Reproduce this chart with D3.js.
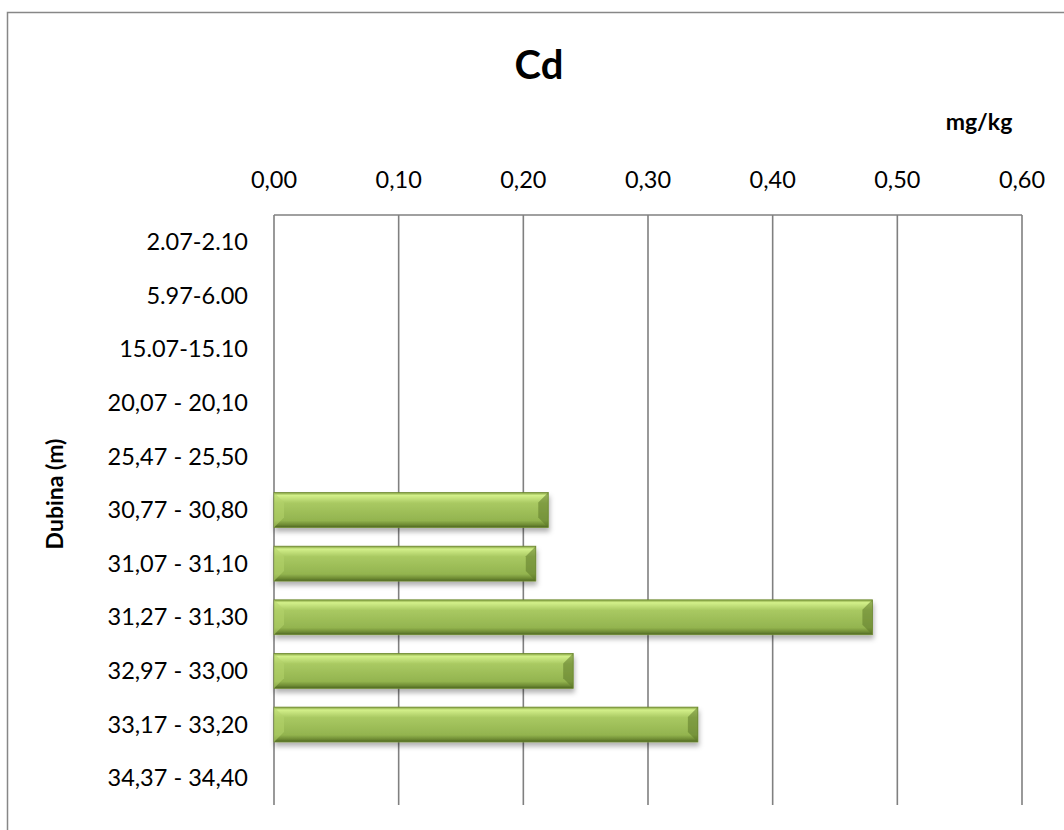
<!DOCTYPE html>
<html>
<head>
<meta charset="utf-8">
<script src="https://cdn.jsdelivr.net/npm/d3@7"></script>
<style>
  body { margin: 0; background: #fff; }
  svg text { font-family: Lato, "Open Sans", sans-serif; fill: #000; }
</style>
</head>
<body>
<svg id="chart"></svg>
<script>
// depth intervals (top to bottom) and Cd content in mg/kg
const depths = ["2.07-2.10", "5.97-6.00", "15.07-15.10", "20,07 - 20,10", "25,47 - 25,50",
  "30,77 - 30,80", "31,07 - 31,10", "31,27 - 31,30", "32,97 - 33,00", "33,17 - 33,20", "34,37 - 34,40"];
const cdValues = [null, null, null, null, null, 0.22, 0.21, 0.48, 0.24, 0.34, null];
const xTicks = [0, 0.1, 0.2, 0.3, 0.4, 0.5, 0.6];

const width = 1064, height = 830;
const svg = d3.select("#chart").attr("width", width).attr("height", height);

// chart area border (runs off right/bottom of the picture)
svg.append("rect")
  .attr("x", 7.5).attr("y", 12.5)
  .attr("width", 1080).attr("height", 840)
  .attr("fill", "none").attr("stroke", "#878787").attr("stroke-width", 1.5);

const x = d3.scaleLinear().domain([0, 0.6]).range([274, 1022]);
const y = d3.scaleBand().domain(depths).range([215, 805]).paddingInner(0.35).paddingOuter(0.175);

const defs = svg.append("defs");
const grad = defs.append("linearGradient").attr("id", "barGrad")
  .attr("x1", 0).attr("y1", 0).attr("x2", 0).attr("y2", 1);
grad.append("stop").attr("offset", "0%").attr("stop-color", "#7f9c3c");
grad.append("stop").attr("offset", "8%").attr("stop-color", "#d3f08a");
grad.append("stop").attr("offset", "30%").attr("stop-color", "#a9c962");
grad.append("stop").attr("offset", "80%").attr("stop-color", "#93b44f");
grad.append("stop").attr("offset", "92%").attr("stop-color", "#6f8c34");
grad.append("stop").attr("offset", "100%").attr("stop-color", "#4e6623");

const shadow = defs.append("filter").attr("id", "shadow")
  .attr("x", "-5%").attr("y", "-20%").attr("width", "110%").attr("height", "160%");
shadow.append("feDropShadow").attr("dx", 1).attr("dy", 4).attr("stdDeviation", 2.5)
  .attr("flood-color", "#000").attr("flood-opacity", 0.3);

// vertical gridlines
svg.append("g")
  .selectAll("line")
  .data(xTicks)
  .join("line")
  .attr("x1", d => x(d)).attr("x2", d => x(d))
  .attr("y1", 215).attr("y2", 805)
  .attr("stroke", "#808080").attr("stroke-width", 1.6);

// top axis line
svg.append("line")
  .attr("x1", x(0)).attr("x2", x(0.6))
  .attr("y1", 215).attr("y2", 215)
  .attr("stroke", "#808080").attr("stroke-width", 1.6);

// tick labels on top
svg.append("g")
  .selectAll("text")
  .data(xTicks)
  .join("text")
  .attr("x", d => x(d)).attr("y", 188)
  .attr("text-anchor", "middle")
  .style("font-size", "23.5px")
  .text(d => d3.format(".2f")(d).replace(".", ","));

// bars
const barData = depths.map((d, i) => ({ depth: d, value: cdValues[i] })).filter(d => d.value != null);
const bars = svg.append("g").selectAll("g")
  .data(barData)
  .join("g")
  .attr("filter", "url(#shadow)");

bars.append("rect")
  .attr("x", x(0)).attr("y", d => y(d.depth))
  .attr("width", d => x(d.value) - x(0))
  .attr("height", y.bandwidth())
  .attr("fill", "url(#barGrad)")
  .attr("stroke", "#6e8a30").attr("stroke-width", 0.8);

// bevel corners at the bar ends
const bev = 10;
bars.append("path")
  .attr("d", d => {
    const x0 = x(0), y0 = y(d.depth), h = y.bandwidth();
    return `M${x0},${y0} L${x0 + bev},${y0 + bev} L${x0 + bev},${y0 + h - bev} L${x0},${y0 + h} Z`;
  })
  .attr("fill", "#b4d36c").attr("opacity", 0.55);
bars.append("path")
  .attr("d", d => {
    const x1 = x(d.value), y0 = y(d.depth), h = y.bandwidth();
    return `M${x1},${y0} L${x1 - bev},${y0 + bev} L${x1 - bev},${y0 + h - bev} L${x1},${y0 + h} Z`;
  })
  .attr("fill", "#5f7a2a").attr("opacity", 0.55);

// category labels
svg.append("g")
  .selectAll("text")
  .data(depths)
  .join("text")
  .attr("x", 248)
  .attr("y", d => y(d) + y.bandwidth() / 2)
  .attr("dy", "0.35em")
  .attr("text-anchor", "end")
  .style("font-size", "23.5px")
  .text(d => d);

// title and axis titles
svg.append("text")
  .attr("x", 539).attr("y", 79)
  .attr("text-anchor", "middle")
  .style("font-size", "40px").style("font-weight", "bold")
  .text("Cd");

svg.append("text")
  .attr("x", 979).attr("y", 130)
  .attr("text-anchor", "middle")
  .style("font-size", "23px").style("font-weight", "bold")
  .text("mg/kg");

svg.append("text")
  .attr("transform", "translate(63,494) rotate(-90)")
  .attr("text-anchor", "middle")
  .style("font-size", "23px").style("font-weight", "bold")
  .text("Dubina (m)");
</script>
</body>
</html>
